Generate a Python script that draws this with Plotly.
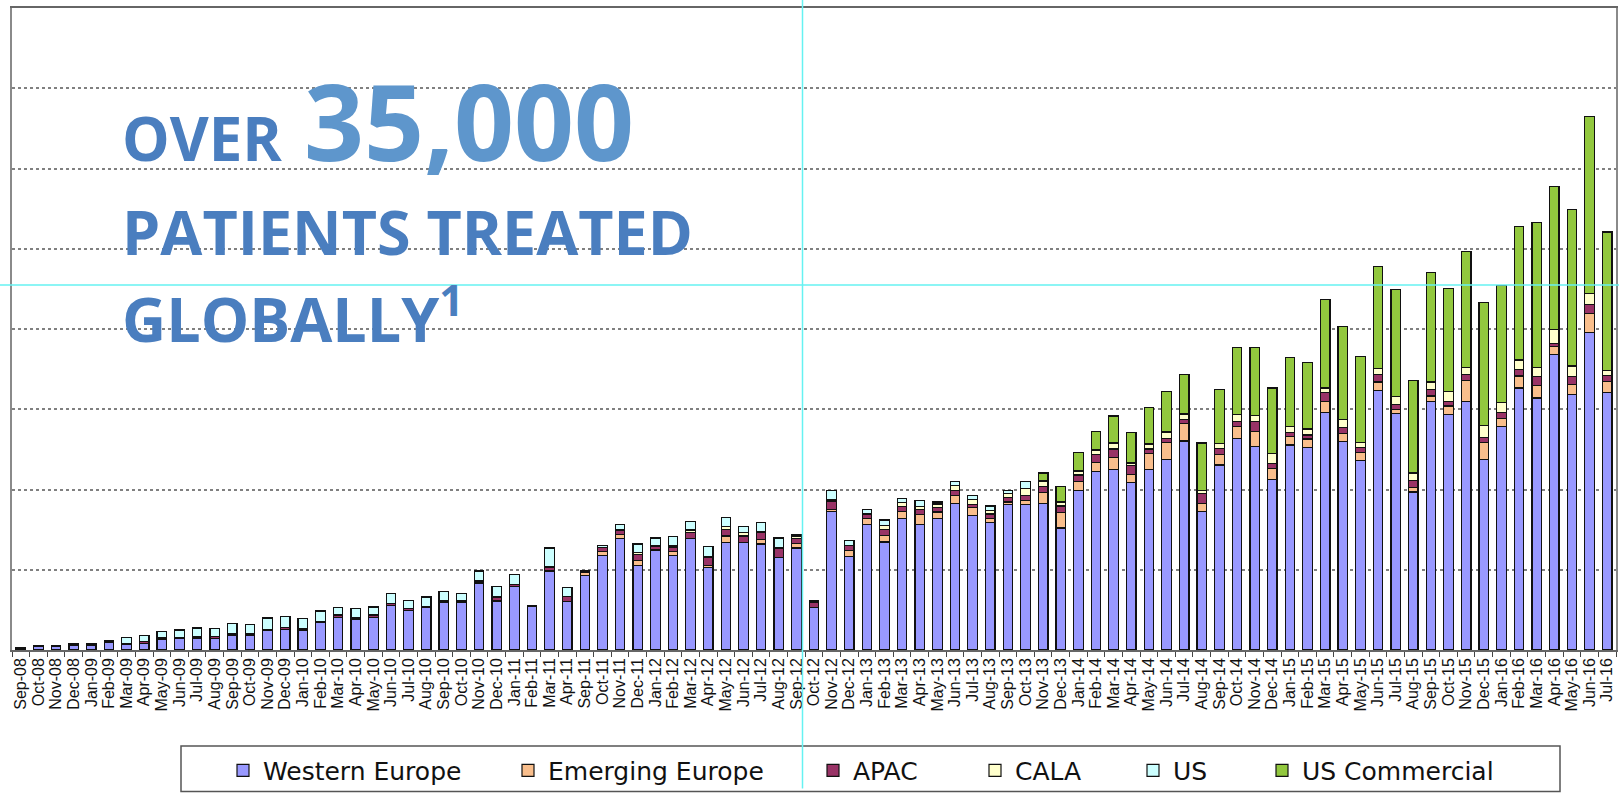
import plotly.graph_objects as go

# Monthly categories (May-11 to Aug-11 have no data in the series)
months = [
    "Sep-08", "Oct-08", "Nov-08", "Dec-08",
    "Jan-09", "Feb-09", "Mar-09", "Apr-09", "May-09", "Jun-09",
    "Jul-09", "Aug-09", "Sep-09", "Oct-09", "Nov-09", "Dec-09",
    "Jan-10", "Feb-10", "Mar-10", "Apr-10", "May-10", "Jun-10",
    "Jul-10", "Aug-10", "Sep-10", "Oct-10", "Nov-10", "Dec-10",
    "Jan-11", "Feb-11", "Mar-11", "Apr-11",
    "Sep-11", "Oct-11", "Nov-11", "Dec-11",
    "Jan-12", "Feb-12", "Mar-12", "Apr-12", "May-12", "Jun-12",
    "Jul-12", "Aug-12", "Sep-12", "Oct-12", "Nov-12", "Dec-12",
    "Jan-13", "Feb-13", "Mar-13", "Apr-13", "May-13", "Jun-13",
    "Jul-13", "Aug-13", "Sep-13", "Oct-13", "Nov-13", "Dec-13",
    "Jan-14", "Feb-14", "Mar-14", "Apr-14", "May-14", "Jun-14",
    "Jul-14", "Aug-14", "Sep-14", "Oct-14", "Nov-14", "Dec-14",
    "Jan-15", "Feb-15", "Mar-15", "Apr-15", "May-15", "Jun-15",
    "Jul-15", "Aug-15", "Sep-15", "Oct-15", "Nov-15", "Dec-15",
    "Jan-16", "Feb-16", "Mar-16", "Apr-16", "May-16", "Jun-16",
    "Jul-16",
]

# Patients treated per month, by region
western_europe = [
    4, 9, 9, 11, 11, 18, 13, 17, 26, 28, 30, 29, 36, 36, 48, 52,
    50, 68, 82, 76, 82, 111, 99, 105, 118, 118, 167, 122, 158, 108, 197, 120,
    186, 235, 277, 211, 249, 235, 277, 206, 268, 268, 264, 230, 254, 106,
    345, 233, 312, 269, 327, 313, 328, 365, 336, 317, 363, 363,
    366, 304, 398, 445, 450, 417, 450, 475, 521, 345,
    461, 527, 507, 425, 511, 505, 591, 519, 472,
    646, 589, 394, 620, 587, 620, 475, 558, 653, 628, 737, 637, 792, 642,
]
emerging_europe = [
    0, 0, 0, 0, 0, 0, 0, 0, 0, 0, 0, 0, 0, 0, 0, 0,
    0, 0, 0, 0, 0, 0, 0, 0, 0, 0, 0, 0, 0, 0, 0, 0,
    7, 10, 10, 12, 0, 11, 0, 4, 16, 0, 12, 0, 12, 0,
    5, 14, 15, 16, 18, 24, 16, 20, 19, 10, 6, 10,
    26, 39, 22, 22, 30, 20, 39, 43, 44, 21,
    27, 31, 37, 28, 21, 21, 29, 21, 21,
    22, 11, 11, 13, 21, 51, 42, 18, 30, 31, 19, 25, 47, 28,
]
apac = [
    2, 3, 3, 4, 4, 4, 4, 4, 4, 4, 4, 4, 4, 4, 4, 4,
    4, 4, 5, 4, 5, 5, 4, 4, 4, 4, 5, 10, 6, 2, 10, 14,
    4, 11, 10, 15, 8, 10, 16, 22, 16, 16, 16, 22, 12, 12,
    20, 13, 12, 16, 12, 14, 12, 13, 8, 12, 12, 13,
    16, 16, 16, 21, 21, 23, 12, 10, 10, 25,
    14, 12, 25, 11, 10, 10, 21, 14, 12,
    18, 12, 18, 16, 12, 15, 13, 16, 16, 22, 7, 19, 22, 14,
]
cala = [
    0, 0, 0, 0, 0, 0, 0, 0, 0, 0, 0, 0, 0, 0, 0, 0,
    0, 0, 0, 0, 0, 0, 0, 0, 0, 0, 0, 0, 0, 0, 0, 0,
    0, 0, 3, 5, 3, 3, 6, 0, 8, 8, 4, 2, 6, 4,
    4, 0, 0, 10, 10, 7, 8, 11, 12, 8, 10, 17,
    12, 8, 9, 10, 15, 4, 12, 15, 12, 6,
    13, 16, 15, 25, 16, 15, 12, 21, 12,
    16, 20, 18, 19, 24, 19, 29, 24, 24, 24, 35, 27, 28, 12,
]
us = [
    0, 0, 0, 0, 0, 2, 15, 15, 16, 18, 21, 20, 26, 23, 28, 27,
    24, 25, 18, 23, 20, 24, 21, 23, 23, 18, 25, 27, 24, 0, 47, 21,
    0, 4, 12, 21, 19, 23, 21, 26, 22, 15, 22, 25, 3, 2,
    24, 12, 12, 13, 10, 15, 5, 10, 10, 12, 7, 16,
    2, 2, 2, 2, 2, 2, 2, 2, 2, 0,
    0, 0, 0, 0, 0, 0, 0, 0, 0,
    0, 0, 0, 0, 0, 0, 0, 0, 0, 0, 0, 0, 0, 0,
]
us_commercial = [
    0, 0, 0, 0, 0, 0, 0, 0, 0, 0, 0, 0, 0, 0, 0, 0,
    0, 0, 0, 0, 0, 0, 0, 0, 0, 0, 0, 0, 0, 0, 0, 0,
    0, 0, 0, 0, 0, 0, 0, 0, 0, 0, 0, 0, 0, 0,
    0, 0, 0, 0, 0, 0, 0, 0, 0, 0, 0, 0,
    19, 39, 45, 45, 65, 76, 90, 99, 97, 119,
    135, 167, 169, 164, 170, 165, 221, 231, 215,
    254, 266, 230, 272, 257, 288, 308, 293, 333, 361, 357, 389, 441, 346,
]

series = [
    ("Western Europe", western_europe, "#9999FF"),
    ("Emerging Europe", emerging_europe, "#F9BE8C"),
    ("APAC", apac, "#993366"),
    ("CALA", cala, "#FFFFCC"),
    ("US", us, "#CCFFFF"),
    ("US Commercial", us_commercial, "#92C83E"),
]

W, H = 1619, 797
ML, MR, MT, MB = 12, 3, 8, 140
PW, PH = W - ML - MR, H - MT - MB


def px_x(px):
    return (px - ML) / PW


def px_y(py):
    return (H - MB - py) / PH


# left edge of each legend entry (pixels)
legend_left = [223, 508, 813, 975, 1133, 1262]

fig = go.Figure()
for k, (name, vals, col) in enumerate(series):
    lg = "legend" if k == 0 else f"legend{k + 1}"
    fig.add_trace(go.Bar(
        x=months, y=vals, name=name, legend=lg,
        marker=dict(color=col, line=dict(color="#111111", width=1.2)),
    ))

legend_font = dict(family="DejaVu Sans", size=25, color="#111111")
legends = {}
for k, left in enumerate(legend_left):
    key = "legend" if k == 0 else f"legend{k + 1}"
    legends[key] = dict(
        x=px_x(left), y=px_y(779), xanchor="left", yanchor="middle",
        orientation="h", font=legend_font, bgcolor="rgba(0,0,0,0)",
        itemwidth=30, itemclick=False, itemdoubleclick=False,
    )

fig.update_layout(
    width=W, height=H, autosize=False,
    margin=dict(l=ML, r=MR, t=MT, b=MB, pad=0),
    paper_bgcolor="white", plot_bgcolor="white",
    barmode="stack", bargap=0.46,
    showlegend=True,
    **legends,
)

fig.update_xaxes(
    type="category", categoryorder="array", categoryarray=months,
    tickmode="array", tickvals=months, ticktext=months,
    tickangle=-90, tickson="boundaries", ticks="outside", ticklen=5,
    tickcolor="#444444", tickwidth=1,
    tickfont=dict(family="Liberation Sans, Arial", size=16, color="#111111"),
    showline=True, linecolor="#666666", linewidth=1.5, mirror=True,
    showgrid=False, automargin=False,
)
fig.update_yaxes(
    range=[0, 1600], dtick=200, showticklabels=False, ticks="",
    showgrid=True, gridcolor="#808080", gridwidth=1.6, griddash="dot",
    showline=True, linecolor="#8a8a8a", linewidth=1.5, mirror=True,
    zeroline=False, automargin=False,
)

# Headline text
blue_dark = "#4A7EBF"
blue_light = "#5E96CC"
headline = [
    ("OVER", 120, 183, 60, blue_dark),
    ("35,000", 302, 196, 105, blue_light),
    ("PATIENTS TREATED", 120, 278, 61, blue_dark),
    ("GLOBALLY<sup>1</sup>", 120, 366, 61, blue_dark),
]
for txt, x0, y0, fs, col in headline:
    fig.add_annotation(
        text=txt, xref="paper", yref="paper", x=px_x(x0), y=px_y(y0),
        xanchor="left", yanchor="bottom", showarrow=False,
        font=dict(family="Open Sans", size=fs, color=col, weight="bold"),
    )

# Legend frame
fig.add_shape(
    type="rect", xref="paper", yref="paper",
    x0=px_x(181), x1=px_x(1560), y0=px_y(800), y1=px_y(754),
    line=dict(color="#555555", width=1.5), fillcolor="rgba(0,0,0,0)", layer="below",
)

# Cyan guide lines
fig.add_shape(
    type="line", xref="paper", yref="paper",
    x0=px_x(802.5), x1=px_x(802.5), y0=px_y(0), y1=px_y(H),
    line=dict(color="#66F2F2", width=1.5), layer="above",
)
fig.add_shape(
    type="line", xref="paper", yref="paper",
    x0=px_x(0), x1=px_x(W), y0=px_y(288), y1=px_y(288),
    line=dict(color="#66F2F2", width=1.5), layer="above",
)

fig.write_html("out.html")
